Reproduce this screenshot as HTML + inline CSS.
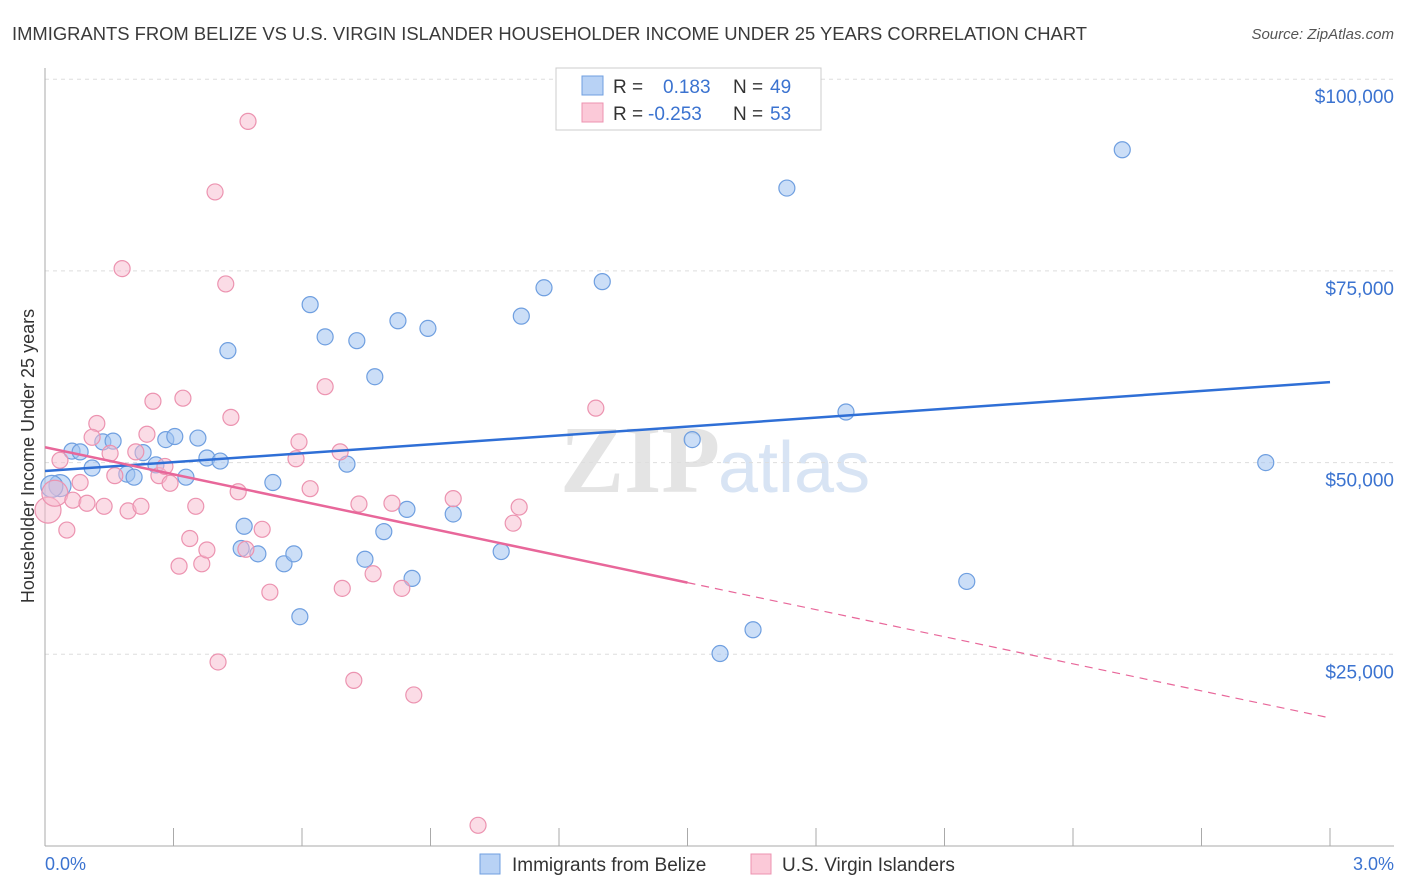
<!DOCTYPE html>
<html><head><meta charset="utf-8"><style>
body{margin:0;background:#fff;font-family:"Liberation Sans",sans-serif;}
svg{display:block}
</style></head><body>
<svg width="1406" height="892" id="chart">
<text x="12" y="40" font-size="18.4" fill="#3a3a3a">IMMIGRANTS FROM BELIZE VS U.S. VIRGIN ISLANDER HOUSEHOLDER INCOME UNDER 25 YEARS CORRELATION CHART</text>
<text x="1394" y="39" font-size="15" fill="#555" font-style="italic" text-anchor="end">Source: ZipAtlas.com</text>
<text x="560" y="492" font-size="96" fill="#e4e4e4" font-family="Liberation Serif" font-weight="bold">ZIP</text>
<text x="718" y="492" font-size="72" fill="#d8e4f4">atlas</text>
<g id="grid"></g><g id="axes"></g><g id="marks"></g>
<text transform="translate(34,456) rotate(-90)" font-size="18" fill="#333" text-anchor="middle">Householder Income Under 25 years</text>
<text x="45" y="870" font-size="18" fill="#3b73d0">0.0%</text>
<text x="1394" y="870" font-size="18" fill="#3b73d0" text-anchor="end">3.0%</text>
<g>
<rect x="556" y="68" width="265" height="62" fill="#fff" stroke="#ccc"/>
<rect x="582" y="76" width="21" height="19" fill="#b8d2f5" stroke="#6f9fe0"/>
<rect x="582" y="103" width="21" height="19" fill="#fbc9d8" stroke="#ec93b0"/>
<text x="613" y="93" font-size="19" fill="#333">R = </text><text x="663" y="93" font-size="19" fill="#3b73d0">0.183</text>
<text x="733" y="93" font-size="19" fill="#333">N = </text><text x="770" y="93" font-size="19" fill="#3b73d0">49</text>
<text x="613" y="120" font-size="19" fill="#333">R = </text><text x="648" y="120" font-size="19" fill="#3b73d0">-0.253</text>
<text x="733" y="120" font-size="19" fill="#333">N = </text><text x="770" y="120" font-size="19" fill="#3b73d0">53</text>
</g>
<g>
<rect x="480" y="854" width="20" height="20" fill="#b8d2f5" stroke="#6f9fe0"/>
<text x="512" y="871" font-size="19" fill="#333">Immigrants from Belize</text>
<rect x="751" y="854" width="20" height="20" fill="#fbc9d8" stroke="#ec93b0"/>
<text x="782" y="871" font-size="19" fill="#333">U.S. Virgin Islanders</text>
</g>
</svg>
<script>
const yTicks=[25000,50000,75000,100000];
const yTickLabels=["$25,000","$50,000","$75,000","$100,000"];
const blueX=[0.063,0.035,0.016,0.082,0.110,0.135,0.159,0.191,0.208,0.229,0.259,0.282,0.303,0.329,0.357,0.378,0.409,0.427,0.465,0.458,0.497,0.532,0.558,0.581,0.595,0.619,0.654,0.705,0.728,0.747,0.770,0.791,0.824,0.845,0.857,0.894,0.953,1.065,1.112,1.165,1.301,1.511,1.576,1.653,1.732,1.870,2.152,2.515,2.850];
const blueY=[51500,47000,46900,51400,49300,52700,52800,48500,48100,51300,49700,53000,53400,48100,53200,50600,50200,64600,41700,38800,38100,47400,36800,38100,29900,70600,66400,49800,65900,37400,61200,41000,68500,43900,34900,67500,43300,38400,69100,72800,73600,53000,25100,28200,85800,56600,34500,90800,50000];
const pinkX=[0.007,0.023,0.035,0.051,0.065,0.082,0.098,0.121,0.110,0.138,0.152,0.163,0.180,0.194,0.212,0.224,0.238,0.252,0.266,0.280,0.292,0.313,0.322,0.338,0.352,0.366,0.378,0.397,0.404,0.422,0.434,0.451,0.469,0.474,0.507,0.525,0.586,0.593,0.619,0.654,0.689,0.694,0.721,0.733,0.766,0.810,0.833,0.861,0.953,1.011,1.093,1.107,1.286];
const pinkY=[43800,46000,50300,41200,45100,47400,44700,55100,53300,44300,51200,48300,75300,43700,51400,44300,53700,58000,48300,49500,47300,36500,58400,40100,44300,36800,38600,85300,24000,73300,55900,46200,38700,94500,41300,33100,50500,52700,46600,59900,51400,33600,21600,44600,35500,44700,33600,19700,45300,2700,42100,44200,57100];
const trendXs=[0,3];
const blueTrend=[48900,60500];
const pinkTrend=[52000,16700];
const pinkSolidEnd=1.5;
const X0=45,X1=1330,YB=846,PXPER=191.7/25000;
const sx=v=>X0+(v/3)*(X1-X0);
const sy=v=>YB-v*PXPER;
const NS="http://www.w3.org/2000/svg";
function mk(p,t,a){const e=document.createElementNS(NS,t);for(const k in a)e.setAttribute(k,a[k]);p.appendChild(e);return e;}
const grid=document.getElementById('grid'),axes=document.getElementById('axes'),marks=document.getElementById('marks');
yTicks.forEach((t,i)=>{
 const l=mk(grid,'line',{x1:45,x2:1394,y1:sy(t),y2:sy(t),stroke:'#ddd','stroke-dasharray':'4,4'});
 
 
 const tx=mk(grid,'text',{x:1394,y:sy(t)+24,'font-size':19,fill:'#3b73d0','text-anchor':'end'});
 tx.textContent=yTickLabels[i];
 
 
});
const xa=mk(axes,'line',{x1:45,x2:1394,y1:846,y2:846,stroke:'#aaa'});


const ya=mk(axes,'line',{x1:45,x2:45,y1:68,y2:846,stroke:'#aaa'});


for(let i=1;i<=10;i++){const x=sx(i*0.3);
 const t=mk(axes,'line',{x1:x,x2:x,y1:828,y2:846,stroke:'#aaa'});
 
 }
blueX.forEach((x,i)=>{
 const c=mk(marks,'circle',{cx:sx(x),cy:sy(blueY[i]),r:x<0.05?11:8,fill:'rgba(160,195,240,0.55)',stroke:'#6f9fe0','stroke-width':1.2});
 
 
});
pinkX.forEach((x,i)=>{
 const c=mk(marks,'circle',{cx:sx(x),cy:sy(pinkY[i]),r:x<0.03?13:8,fill:'rgba(248,185,205,0.5)',stroke:'#ec93b0','stroke-width':1.2});
 
 
});
const pAt=x=>pinkTrend[0]+(pinkTrend[1]-pinkTrend[0])*(x-trendXs[0])/(trendXs[1]-trendXs[0]);
const bl=mk(marks,'line',{x1:sx(trendXs[0]),y1:sy(blueTrend[0]),x2:sx(trendXs[1]),y2:sy(blueTrend[1]),stroke:'#2f6fd6','stroke-width':2.5});


const pl=mk(marks,'line',{x1:sx(trendXs[0]),y1:sy(pinkTrend[0]),x2:sx(pinkSolidEnd),y2:sy(pAt(pinkSolidEnd)),stroke:'#e8679a','stroke-width':2.5});


const pd=mk(marks,'line',{x1:sx(pinkSolidEnd),y1:sy(pAt(pinkSolidEnd)),x2:sx(trendXs[1]),y2:sy(pinkTrend[1]),stroke:'#e8679a','stroke-width':1.2,'stroke-dasharray':'8,6'});


</script>
</body></html>
